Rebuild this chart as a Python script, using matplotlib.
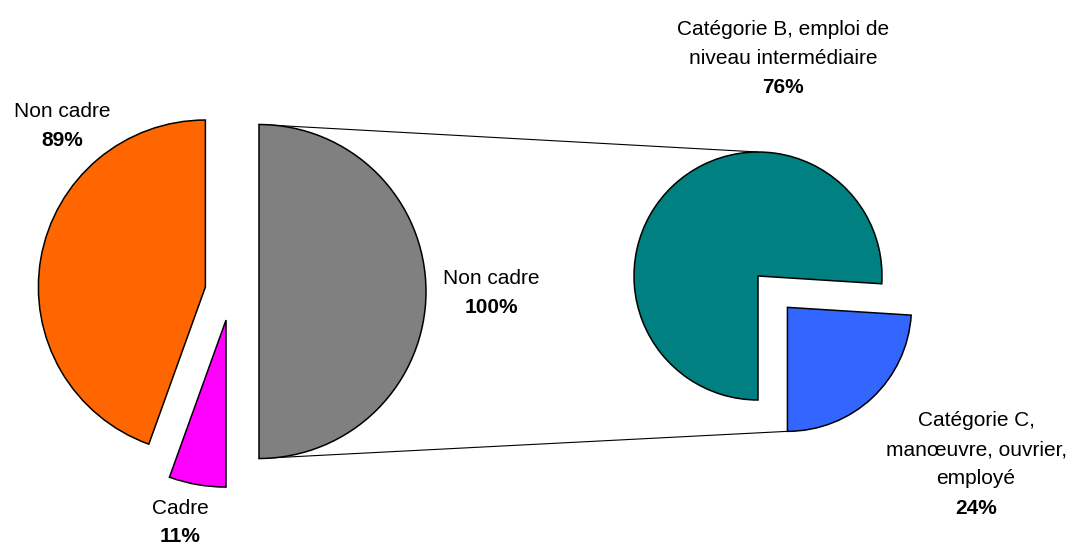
import matplotlib
matplotlib.use("Agg")
import matplotlib.pyplot as plt

# ---------------- data ----------------
left_names = ["Non cadre", "Cadre", "Non cadre"]
left_values = [89, 11, 100]
left_colors = ["#FF6600", "#FF00FF", "#808080"]

right_names = [["Catégorie B, emploi de", "niveau intermédiaire"],
               ["Catégorie C,", "manœuvre, ouvrier,", "employé"]]
right_values = [76, 24]
right_colors = ["#008080", "#3366FF"]

# ---------------- layout (pixel space, y measured from top) ----------------
W, H = 1073, 547
FONT = "Liberation Sans"
FS = 15
LINE = 29

def Y(y):
    return H - y

fig = plt.figure(figsize=(W / 100, H / 100), dpi=100)
ax = fig.add_axes([0, 0, 1, 1])

wp = dict(edgecolor="black", linewidth=1.1)

left_wedges, _ = ax.pie(left_values, colors=left_colors, startangle=90,
                        counterclock=True, radius=167, center=(231, Y(291.5)),
                        explode=[26, 29, 28], wedgeprops=wp, frame=True)

right_wedges, _ = ax.pie(right_values, colors=right_colors,
                         startangle=-90 + 360 * right_values[1] / sum(right_values),
                         counterclock=True, radius=124, center=(758, Y(276)),
                         explode=[0, 43], wedgeprops=wp, frame=True)

# connector lines: from left edge of grey half-disc to top of teal / bottom of blue
g = left_wedges[2]
gx, gy = g.center
t = right_wedges[0]
tx, ty = t.center
b = right_wedges[1]
bx, by = b.center
ax.plot([gx, tx], [gy + g.r, ty + t.r], color="black", lw=0.8, zorder=0)
ax.plot([gx, bx], [gy - g.r, by - b.r], color="black", lw=0.8, zorder=0)

def label(x, y0, lines, pct, step=LINE):
    for i, s in enumerate(lines):
        ax.text(x, Y(y0 + i * step), s, ha="center", va="baseline",
                fontsize=FS, family=FONT)
    ax.text(x, Y(y0 + len(lines) * step), f"{pct}%", ha="center", va="baseline",
            fontsize=FS, family=FONT, fontweight="bold")

label(62, 117, [left_names[0]], left_values[0])
label(180, 514.5, [left_names[1]], left_values[1], step=28)
label(491, 284, [left_names[2]], left_values[2])
label(783, 35, right_names[0], right_values[0])
label(976, 426.5, right_names[1], right_values[1])

ax.set_xlim(0, W)
ax.set_ylim(0, H)
ax.set_aspect("equal")
ax.axis("off")

fig.savefig("out.png", dpi=100)
